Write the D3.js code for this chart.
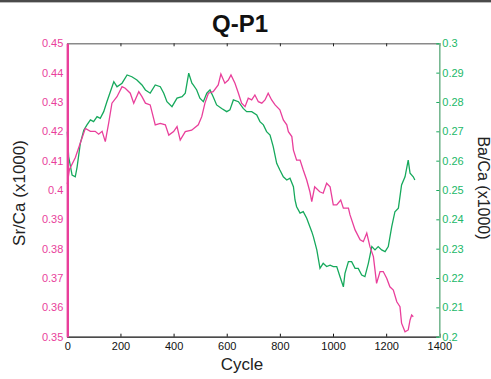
<!DOCTYPE html>
<html>
<head>
<meta charset="utf-8">
<script src="https://cdn.jsdelivr.net/npm/d3@7"></script>
<style>
  body { margin: 0; background: #fff; }
  svg { display: block; font-family: "Liberation Sans", Arial, Helvetica, sans-serif; }
</style>
</head>
<body>
<div id="chart"></div>
<script>
// Sr/Ca series (left axis)
const srCycle = [0, 8, 30, 49, 68, 87, 105, 118, 131, 143, 156, 168, 187, 206, 218, 237, 250, 269, 281, 294,
  312, 331, 350, 369, 382, 400, 413, 425, 444, 468, 493, 506, 518, 531, 549, 568, 578, 593, 606, 616,
  631, 644, 656, 669, 681, 694, 706, 719, 732, 744, 756, 769, 782, 800, 813, 826, 832, 845, 851, 863,
  876, 888, 901, 913, 920, 931, 950, 963, 976, 989, 1001, 1014, 1029, 1039, 1058, 1064, 1083, 1102, 1114, 1127,
  1139, 1152, 1164, 1177, 1189, 1202, 1214, 1227, 1240, 1252, 1258, 1271, 1283, 1290, 1296, 1302];
const srValue = [0.402, 0.407, 0.411, 0.416, 0.421, 0.420, 0.420, 0.419, 0.420, 0.4165, 0.423, 0.4296, 0.4318, 0.4352, 0.4347, 0.4330, 0.4296, 0.4335, 0.4318, 0.4296,
  0.4290, 0.4222, 0.4227, 0.4222, 0.4187, 0.4199, 0.4216, 0.4170, 0.4199, 0.4204, 0.4222, 0.4250, 0.4296, 0.4330, 0.4335, 0.4358, 0.4395, 0.4364, 0.4375, 0.4392,
  0.4364, 0.4330, 0.4296, 0.4284, 0.4313, 0.4307, 0.4324, 0.4301, 0.4296, 0.4307, 0.4330, 0.4307, 0.4290, 0.4273, 0.4239, 0.4222, 0.4199, 0.4182, 0.4136, 0.4102,
  0.4102, 0.4068, 0.4034, 0.3994, 0.3960, 0.4011, 0.3994, 0.3989, 0.4023, 0.4011, 0.3949, 0.3949, 0.3966, 0.3938, 0.3938, 0.3915, 0.3864, 0.3830, 0.3824, 0.3853,
  0.3807, 0.3773, 0.3682, 0.3722, 0.3722, 0.3699, 0.3670, 0.3659, 0.3619, 0.3602, 0.3546, 0.3517, 0.3523, 0.3557, 0.3574, 0.3568];

// Ba/Ca series (right axis)
const baCycle = [0, 5, 18, 30, 37, 49, 62, 74, 87, 99, 112, 124, 137, 149, 162, 175, 187, 206, 225, 243,
  262, 281, 294, 312, 331, 350, 363, 375, 394, 413, 432, 444, 457, 469, 474, 487, 499, 512, 525, 537,
  549, 562, 581, 600, 612, 625, 644, 662, 675, 694, 713, 725, 738, 750, 763, 775, 788, 800, 813, 826,
  838, 851, 857, 863, 876, 888, 901, 920, 926, 939, 951, 963, 976, 989, 1001, 1014, 1026, 1039, 1045, 1058,
  1070, 1083, 1095, 1108, 1120, 1133, 1146, 1158, 1170, 1183, 1196, 1208, 1221, 1233, 1246, 1258, 1271, 1283, 1290, 1302, 1308];
const baValue = [0.2699, 0.2614, 0.2551, 0.2545, 0.2579, 0.2659, 0.2704, 0.2722, 0.2739, 0.2733, 0.2750, 0.2744, 0.2767, 0.2801, 0.2835, 0.2869, 0.2852, 0.2864, 0.2892, 0.2886,
  0.2875, 0.2858, 0.2841, 0.2830, 0.2858, 0.2852, 0.2830, 0.2801, 0.2784, 0.2813, 0.2818, 0.2830, 0.2898, 0.2864, 0.2858, 0.2841, 0.2813, 0.2801, 0.2830, 0.2841,
  0.2818, 0.2790, 0.2778, 0.2767, 0.2773, 0.2807, 0.2801, 0.2778, 0.2767, 0.2767, 0.2756, 0.2733, 0.2722, 0.2699, 0.2687, 0.2648, 0.2591, 0.2568, 0.2545, 0.2534,
  0.2540, 0.2511, 0.2466, 0.2443, 0.2421, 0.2426, 0.2404, 0.2358, 0.2341, 0.2296, 0.2233, 0.2250, 0.2239, 0.2244, 0.2239, 0.2239, 0.2205, 0.2170, 0.2216, 0.2256,
  0.2256, 0.2233, 0.2233, 0.2210, 0.2205, 0.2250, 0.2307, 0.2296, 0.2307, 0.2296, 0.2290, 0.2307, 0.2375, 0.2426, 0.2438, 0.2517, 0.2545, 0.2602, 0.2557, 0.2545, 0.2534];

const xTicks = [0, 200, 400, 600, 800, 1000, 1200, 1400];
const srTicks = [0.35, 0.36, 0.37, 0.38, 0.39, 0.40, 0.41, 0.42, 0.43, 0.44, 0.45];
const srTickLabels = ["0.35", "0.36", "0.37", "0.38", "0.39", "0.4", "0.41", "0.42", "0.43", "0.44", "0.45"];
const baTicks = [0.20, 0.21, 0.22, 0.23, 0.24, 0.25, 0.26, 0.27, 0.28, 0.29, 0.30];
const baTickLabels = ["0.2", "0.21", "0.22", "0.23", "0.24", "0.25", "0.26", "0.27", "0.28", "0.29", "0.3"];

const width = 491, height = 379;
const plot = {left: 67.3, right: 439.3, top: 43.3, bottom: 336.7};
const pink = "#e93f9b", green = "#16a95c";

const svg = d3.select("#chart").append("svg")
  .attr("width", width)
  .attr("height", height);

// frame line at the top of the picture
svg.append("rect").attr("x", 0).attr("y", 0).attr("width", width).attr("height", 2).attr("fill", "#4a4a4a");
svg.append("rect").attr("x", 0).attr("y", 2).attr("width", width).attr("height", 1).attr("fill", "#bbb");

const x = d3.scaleLinear().domain([0, 1400]).range([plot.left, plot.right]);
const ySr = d3.scaleLinear().domain([0.35, 0.45]).range([plot.bottom, plot.top]);
const yBa = d3.scaleLinear().domain([0.2, 0.3]).range([plot.bottom, plot.top]);

// top axis (ticks only)
const topAxis = svg.append("g")
  .attr("transform", `translate(0,${plot.top})`)
  .call(d3.axisTop(x).tickValues(xTicks.slice(1, -1)).tickSize(-3).tickFormat(""));
topAxis.select(".domain").attr("stroke", "#8a8a8a").attr("stroke-width", 1.6);
topAxis.selectAll(".tick line").attr("stroke", "#222");

// bottom axis
const bottomAxis = svg.append("g")
  .attr("transform", `translate(0,${plot.bottom})`)
  .call(d3.axisBottom(x).tickValues(xTicks).tickSize(-3).tickPadding(6).tickFormat(d3.format("d")));
bottomAxis.select(".domain").attr("stroke", "#111").attr("stroke-width", 1.3);
bottomAxis.selectAll(".tick line").attr("stroke", "#111");
bottomAxis.selectAll(".tick text")
  .attr("font-size", 11).attr("fill", "#111").attr("font-family", null);

// series
const line = d3.line().x(d => x(d[0])).y(d => d[1]);

svg.append("path")
  .datum(baCycle.map((c, i) => [c, yBa(baValue[i])]))
  .attr("d", line)
  .attr("fill", "none")
  .attr("stroke", green)
  .attr("stroke-width", 1.3);

svg.append("path")
  .datum(srCycle.map((c, i) => [c, ySr(srValue[i])]))
  .attr("d", line)
  .attr("fill", "none")
  .attr("stroke", pink)
  .attr("stroke-width", 1.3);

// right axis
const rightAxis = svg.append("g")
  .attr("transform", `translate(${plot.right},0)`)
  .call(d3.axisRight(yBa).tickValues(baTicks).tickSize(-3).tickPadding(3).tickFormat((d, i) => baTickLabels[i]));
rightAxis.select(".domain").attr("stroke", "#78b892").attr("stroke-width", 1.6);
rightAxis.selectAll(".tick line").attr("stroke", green);
rightAxis.selectAll(".tick text")
  .attr("font-size", 11).attr("fill", "#22b868").attr("font-family", null);

// left axis
const leftAxis = svg.append("g")
  .attr("transform", `translate(${plot.left},0)`)
  .call(d3.axisLeft(ySr).tickValues(srTicks).tickSize(0).tickPadding(4).tickFormat((d, i) => srTickLabels[i]));
leftAxis.select(".domain").attr("stroke", pink).attr("stroke-width", 2.4);
leftAxis.selectAll(".tick text")
  .attr("font-size", 11).attr("fill", pink).attr("font-family", null);

// title and axis labels
svg.append("text")
  .attr("x", 240).attr("y", 32)
  .attr("text-anchor", "middle")
  .attr("font-size", 24).attr("font-weight", "bold").attr("fill", "#111")
  .text("Q-P1");

svg.append("text")
  .attr("x", 242).attr("y", 370)
  .attr("text-anchor", "middle")
  .attr("font-size", 17).attr("fill", "#222")
  .text("Cycle");

svg.append("text")
  .attr("transform", "translate(24.5,193) rotate(-90)")
  .attr("text-anchor", "middle")
  .attr("font-size", 17).attr("fill", "#222")
  .text("Sr/Ca (x1000)");

svg.append("text")
  .attr("transform", "translate(477.5,188) rotate(90)")
  .attr("text-anchor", "middle")
  .attr("font-size", 16).attr("fill", "#222")
  .text("Ba/Ca (x1000)");
</script>
</body>
</html>
